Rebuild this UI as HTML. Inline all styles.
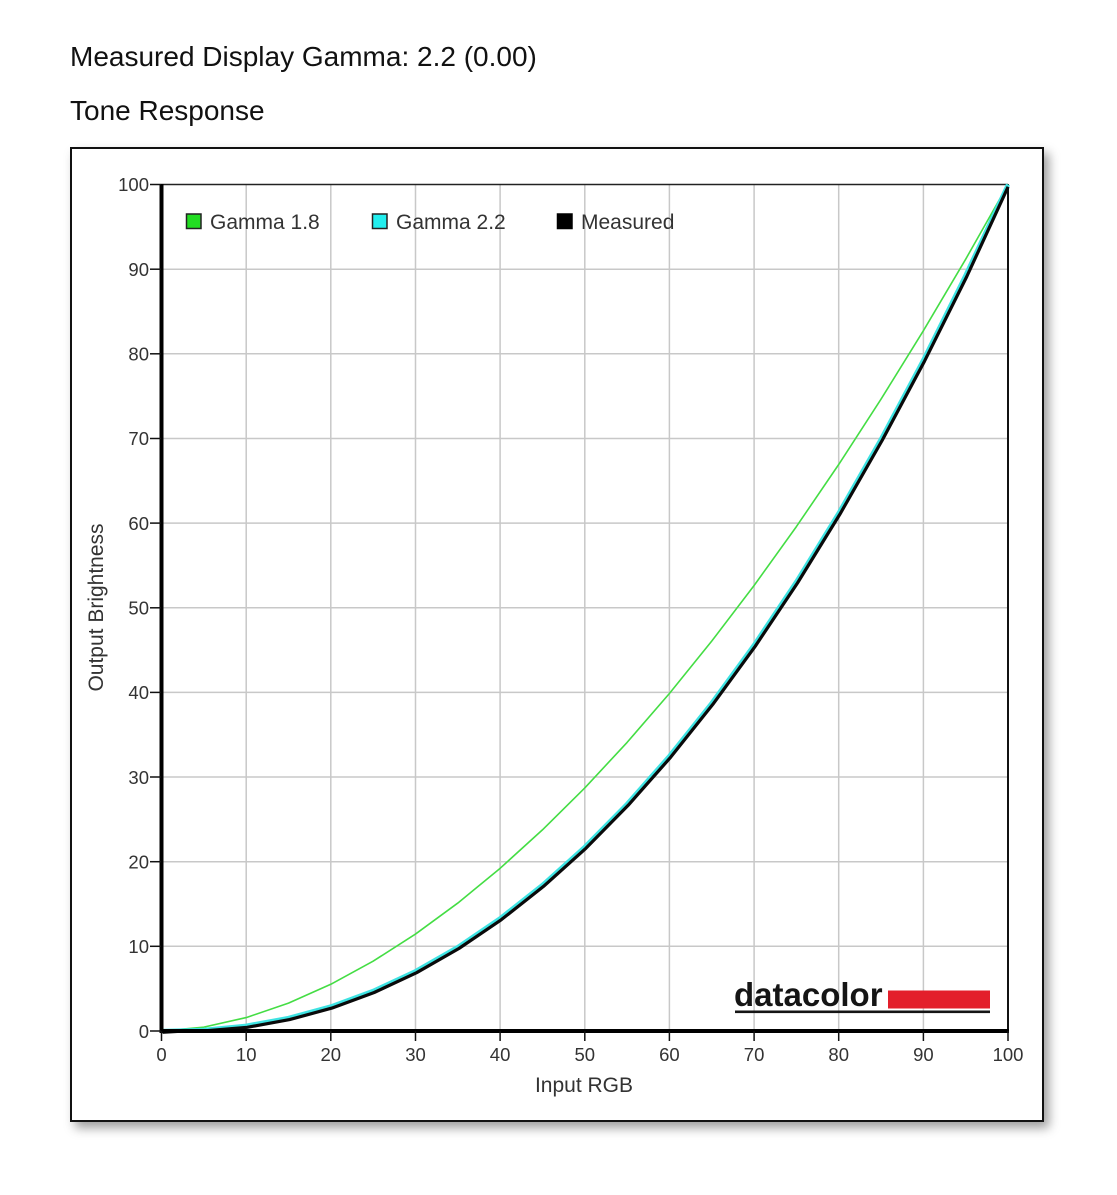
<!DOCTYPE html>
<html>
<head>
<meta charset="utf-8">
<style>
html,body{margin:0;padding:0;background:#fff;}
body{width:1117px;height:1195px;position:relative;overflow:hidden;font-family:"Liberation Sans",Arial,sans-serif;}
#box{position:absolute;left:70px;top:147px;width:970px;height:971px;border:2.5px solid #111;background:#fff;box-shadow:5px 6px 10px rgba(0,0,0,0.38);}
svg{position:absolute;left:0;top:0;}
</style>
</head>
<body>
<div id="box"></div>
<svg width="1117" height="1195" viewBox="0 0 1117 1195" xmlns="http://www.w3.org/2000/svg" font-family="Liberation Sans, Arial, sans-serif">
  <!-- Titles -->
  <text x="70" y="66" font-size="28" fill="#111">Measured Display Gamma: 2.2 (0.00)</text>
  <text x="70" y="120" font-size="28" fill="#111">Tone Response</text>

  <!-- Grid -->
  <g stroke="#c8c8c8" stroke-width="1.5">
    <line x1="246.2" y1="184.5" x2="246.2" y2="1031"/>
    <line x1="330.8" y1="184.5" x2="330.8" y2="1031"/>
    <line x1="415.5" y1="184.5" x2="415.5" y2="1031"/>
    <line x1="500.1" y1="184.5" x2="500.1" y2="1031"/>
    <line x1="584.8" y1="184.5" x2="584.8" y2="1031"/>
    <line x1="669.4" y1="184.5" x2="669.4" y2="1031"/>
    <line x1="754.1" y1="184.5" x2="754.1" y2="1031"/>
    <line x1="838.7" y1="184.5" x2="838.7" y2="1031"/>
    <line x1="923.4" y1="184.5" x2="923.4" y2="1031"/>
    <line x1="161.5" y1="946.3" x2="1008" y2="946.3"/>
    <line x1="161.5" y1="861.7" x2="1008" y2="861.7"/>
    <line x1="161.5" y1="777.0" x2="1008" y2="777.0"/>
    <line x1="161.5" y1="692.4" x2="1008" y2="692.4"/>
    <line x1="161.5" y1="607.8" x2="1008" y2="607.8"/>
    <line x1="161.5" y1="523.1" x2="1008" y2="523.1"/>
    <line x1="161.5" y1="438.5" x2="1008" y2="438.5"/>
    <line x1="161.5" y1="353.8" x2="1008" y2="353.8"/>
    <line x1="161.5" y1="269.2" x2="1008" y2="269.2"/>
  </g>

  <!-- Plot border top/right -->
  <line x1="161" y1="184.5" x2="1008" y2="184.5" stroke="#222" stroke-width="1.6"/>
  <line x1="1008" y1="184" x2="1008" y2="1031" stroke="#111" stroke-width="2"/>

  <!-- datacolor logo -->
  <text x="734" y="1006" font-size="33" font-weight="bold" fill="#151515">datacolor</text>
  <rect x="888" y="990.5" width="102" height="18" fill="#e31f2b"/>
  <rect x="735" y="1010.5" width="255" height="2.6" fill="#151515"/>

  <!-- Curves -->
  <polyline fill="none" stroke="#44dd44" stroke-width="1.6" stroke-linejoin="round"
    points="161.5,1031 203.8,1027.15 246.2,1017.58 288.5,1003.16 330.8,984.28 373.1,961.19 415.5,934.08 457.8,903.08 500.1,868.32 542.4,829.89 584.8,787.91 627.1,742.41 669.4,693.47 711.7,641.15 754.1,585.52 796.4,526.61 838.7,464.51 881.0,399.21 923.4,330.73 965.7,259.16 1008,184.5"/>
  <polyline fill="none" stroke="#3fe3e3" stroke-width="4.2" stroke-linejoin="round"
    points="161.5,1031 203.8,1029.84 246.2,1025.66 288.5,1017.96 330.8,1006.46 373.1,990.90 415.5,971.12 457.8,946.94 500.1,918.24 542.4,884.89 584.8,846.77 627.1,803.79 669.4,755.85 711.7,702.88 754.1,644.78 796.4,581.47 838.7,512.89 881.0,438.96 923.4,359.63 965.7,274.82 1008,184.5"/>
  <polyline fill="none" stroke="#0a0a0a" stroke-width="3.2" stroke-linejoin="round" transform="translate(1.1,1.3)"
    points="161.5,1031 185,1029.6 203.8,1029.6 246.2,1026.0 288.5,1018.3 330.8,1006.8 373.1,991.2 415.5,971.4 457.8,947.2 500.1,918.5 542.4,885.1 584.8,847.0 627.1,804.0 669.4,756.1 711.7,703.1 754.1,645.0 796.4,581.7 838.7,513.1 881.0,439.2 923.4,359.9 965.7,275.2 1007,185.5"/>

  <!-- Axes -->
  <line x1="161.5" y1="184" x2="161.5" y2="1033" stroke="#000" stroke-width="4"/>
  <line x1="159.5" y1="1031" x2="1009" y2="1031" stroke="#000" stroke-width="4"/>

  <!-- Y ticks -->
  <g stroke="#111" stroke-width="1.5">
    <line x1="150" y1="1031" x2="161" y2="1031"/>
    <line x1="150" y1="946.3" x2="161" y2="946.3"/>
    <line x1="150" y1="861.7" x2="161" y2="861.7"/>
    <line x1="150" y1="777.0" x2="161" y2="777.0"/>
    <line x1="150" y1="692.4" x2="161" y2="692.4"/>
    <line x1="150" y1="607.8" x2="161" y2="607.8"/>
    <line x1="150" y1="523.1" x2="161" y2="523.1"/>
    <line x1="150" y1="438.5" x2="161" y2="438.5"/>
    <line x1="150" y1="353.8" x2="161" y2="353.8"/>
    <line x1="150" y1="269.2" x2="161" y2="269.2"/>
    <line x1="150" y1="184.5" x2="161" y2="184.5"/>
  </g>
  <!-- X ticks -->
  <g stroke="#111" stroke-width="1.5">
    <line x1="161.5" y1="1031" x2="161.5" y2="1041"/>
    <line x1="246.2" y1="1031" x2="246.2" y2="1041"/>
    <line x1="330.8" y1="1031" x2="330.8" y2="1041"/>
    <line x1="415.5" y1="1031" x2="415.5" y2="1041"/>
    <line x1="500.1" y1="1031" x2="500.1" y2="1041"/>
    <line x1="584.8" y1="1031" x2="584.8" y2="1041"/>
    <line x1="669.4" y1="1031" x2="669.4" y2="1041"/>
    <line x1="754.1" y1="1031" x2="754.1" y2="1041"/>
    <line x1="838.7" y1="1031" x2="838.7" y2="1041"/>
    <line x1="923.4" y1="1031" x2="923.4" y2="1041"/>
    <line x1="1008" y1="1031" x2="1008" y2="1041"/>
  </g>

  <!-- Y tick labels -->
  <g font-size="18.5" fill="#333" text-anchor="end">
    <text x="149" y="1038">0</text>
    <text x="149" y="953">10</text>
    <text x="149" y="868.5">20</text>
    <text x="149" y="784">30</text>
    <text x="149" y="699">40</text>
    <text x="149" y="614.5">50</text>
    <text x="149" y="530">60</text>
    <text x="149" y="445">70</text>
    <text x="149" y="360.5">80</text>
    <text x="149" y="276">90</text>
    <text x="149" y="191">100</text>
  </g>
  <!-- X tick labels -->
  <g font-size="18.5" fill="#333" text-anchor="middle">
    <text x="161.5" y="1061">0</text>
    <text x="246.2" y="1061">10</text>
    <text x="330.8" y="1061">20</text>
    <text x="415.5" y="1061">30</text>
    <text x="500.1" y="1061">40</text>
    <text x="584.8" y="1061">50</text>
    <text x="669.4" y="1061">60</text>
    <text x="754.1" y="1061">70</text>
    <text x="838.7" y="1061">80</text>
    <text x="923.4" y="1061">90</text>
    <text x="1008" y="1061">100</text>
  </g>

  <!-- Axis labels -->
  <text x="584" y="1092" font-size="21" fill="#333" text-anchor="middle">Input RGB</text>
  <text transform="translate(103,607.5) rotate(-90)" font-size="21" fill="#333" text-anchor="middle">Output Brightness</text>

  <!-- Legend -->
  <rect x="186.5" y="214" width="14.5" height="14.5" fill="#22dd22" stroke="#222" stroke-width="1.5"/>
  <text x="210" y="229" font-size="21" fill="#333">Gamma 1.8</text>
  <rect x="372.5" y="214" width="14.5" height="14.5" fill="#22eeee" stroke="#222" stroke-width="1.5"/>
  <text x="396" y="229" font-size="21" fill="#333">Gamma 2.2</text>
  <rect x="557.5" y="214" width="14.5" height="14.5" fill="#000" stroke="#000" stroke-width="1.5"/>
  <text x="581" y="229" font-size="21" fill="#333">Measured</text>
</svg>
</body>
</html>
